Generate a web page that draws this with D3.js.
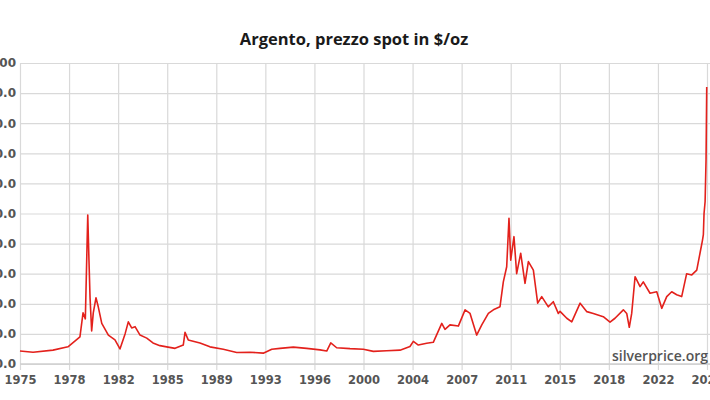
<!DOCTYPE html>
<html>
<head>
<meta charset="utf-8">
<script src="https://cdn.jsdelivr.net/npm/d3@7"></script>
<style>
  html, body { margin: 0; padding: 0; background: #fff; }
  svg { display: block; }
</style>
</head>
<body>
<svg id="chart" width="710" height="400"></svg>
<script>
const years = [1975.0,1975.97,1977.45,1978.56,1979.45,1979.68,1979.85,1980.03,1980.12,1980.2,1980.32,1980.44,1980.64,1980.81,1981.07,1981.56,1982.05,1982.42,1982.8,1983.04,1983.29,1983.54,1983.91,1984.41,1984.87,1985.39,1985.89,1986.51,1987.12,1987.25,1987.49,1988.36,1989.1,1990.09,1991.09,1992.07,1993.06,1993.69,1994.3,1995.29,1996.28,1997.27,1997.77,1998.07,1998.51,1999.5,2000.49,2001.23,2002.22,2003.21,2003.95,2004.2,2004.57,2005.19,2005.68,2006.31,2006.55,2006.92,2007.54,2008.04,2008.41,2008.9,2009.28,2009.77,2010.14,2010.63,2010.88,2011.13,2011.3,2011.43,2011.67,2011.87,2012.17,2012.49,2012.74,2013.11,2013.43,2013.73,2014.22,2014.59,2014.96,2015.09,2015.59,2015.96,2016.58,2017.08,2017.56,2018.3,2018.8,2019.17,2019.79,2020.04,2020.23,2020.41,2020.66,2021.03,2021.27,2021.77,2022.27,2022.64,2023.01,2023.38,2023.75,2024.12,2024.49,2024.87,2025.24,2025.48,2025.66,2025.73,2025.78,2025.86,2025.93,2025.98];
const prices = [4.3,3.9,4.6,5.7,9,17,15,49.5,34.5,22,11,17,22,19,13.5,9.6,8,5,10,14,12,12.4,9.6,8.6,7,6.1,5.7,5.2,6.3,10.5,8,7,5.7,4.9,3.8,3.9,3.6,4.9,5.2,5.6,5.2,4.7,4.3,7,5.4,5.1,4.9,4.2,4.4,4.6,5.8,7.5,6.3,6.9,7.2,13.5,11.5,13,12.6,18,16.8,9.6,13,16.8,18,19,27.3,32.3,48.4,34.5,42.3,30,36.8,26.8,34,31.2,20.2,22.4,19,20.7,16.8,17.5,15.2,14,20.2,17.4,16.8,15.7,13.9,15.2,18,16.8,12.2,16.8,29,25.7,27.3,23.5,24,18.5,22.4,24,23,22.4,30,29.6,31.2,36.8,41,43,50,54,68,92];
const yTickValues = [0,10,20,30,40,50,60,70,80,90,100];
const yTickLabels = ["0.0","10.0","20.0","30.0","40.0","50.0","60.0","70.0","80.0","90.0","100"];
const xTickLabels = ["1975","1978","1982","1985","1989","1993","1996","2000","2004","2007","2011","2015","2018","2022","2026"];
const xStart = 1975, xEnd = 2026;
const title = "Argento, prezzo spot in $/oz";
const source = "silverprice.org";

const svg = d3.select("#chart");
const x = d3.scaleLinear().domain([xStart, xEnd]).range([20, 707]);
const y = d3.scaleLinear().domain([0, 100]).range([364, 63]);
const xTickValues = xTickLabels.map((d, i) => xStart + i * (xEnd - xStart) / (xTickLabels.length - 1));
const labelFont = "'DejaVu Sans', sans-serif";

// horizontal gridlines + y labels
const yAxis = svg.append("g").attr("transform", "translate(20,0)")
  .call(d3.axisLeft(y).tickValues(yTickValues).tickSize(-700).tickPadding(4)
    .tickFormat((d, i) => yTickLabels[i]));
yAxis.select(".domain").remove();
yAxis.selectAll(".tick line").attr("stroke", "#d9d9d9").attr("stroke-width", 1.2);
yAxis.selectAll(".tick text").attr("fill", "#555555")
  .style("font-family", labelFont).style("font-size", "12px").style("font-weight", "700");

// vertical gridlines + x labels
const xAxis = svg.append("g").attr("transform", "translate(0,370)")
  .call(d3.axisBottom(x).tickValues(xTickValues).tickSize(-307).tickPadding(6)
    .tickFormat((d, i) => xTickLabels[i]));
xAxis.select(".domain").remove();
xAxis.selectAll(".tick line").attr("stroke", "#d9d9d9").attr("stroke-width", 1.2);
xAxis.selectAll(".tick text").attr("fill", "#555555")
  .style("font-family", labelFont).style("font-size", "11.5px").style("font-weight", "600");

// bottom axis line slightly darker
svg.append("line").attr("x1", 20).attr("x2", 710).attr("y1", y(0)).attr("y2", y(0))
  .attr("stroke", "#cfcfcf").attr("stroke-width", 1.3);

// line
const line = d3.line().x((d, i) => x(years[i])).y(d => y(d));
svg.append("path").datum(prices).attr("d", line)
  .attr("fill", "none").attr("stroke", "#e3211c").attr("stroke-width", 1.6)
  .attr("stroke-linejoin", "round");

// title
svg.append("text").attr("x", 354).attr("y", 45).attr("text-anchor", "middle")
  .attr("fill", "#1a1a1a").style("font-family", "'Open Sans', sans-serif")
  .style("font-size", "16.5px").style("font-weight", "700").text(title);

// source watermark
svg.append("text").attr("x", 708).attr("y", 361).attr("text-anchor", "end")
  .attr("fill", "#555555").style("font-family", "'Open Sans', sans-serif")
  .style("font-size", "14px").style("font-weight", "600").text(source);
</script>
</body>
</html>
